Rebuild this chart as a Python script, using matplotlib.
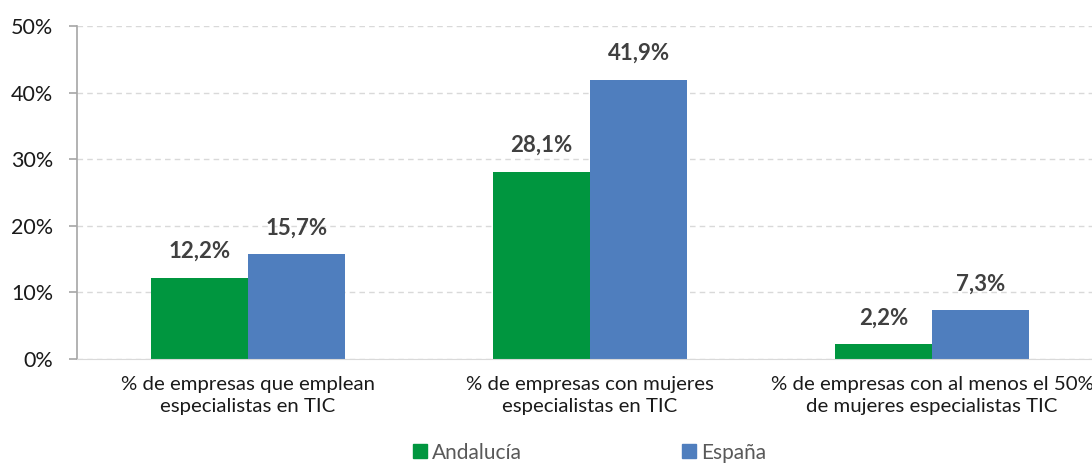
import numpy as np
import matplotlib.pyplot as plt
from matplotlib.patches import Patch

categories = ["% de empresas que emplean\nespecialistas en TIC",
              "% de empresas con mujeres\nespecialistas en TIC",
              "% de empresas con al menos el 50%\nde mujeres especialistas TIC"]
andalucia = [12.2, 28.1, 2.2]
espana = [15.7, 41.9, 7.3]
series_names = ["Andalucía", "España"]

green = "#00963f"
blue = "#4f7ebe"

plt.rcParams['font.family'] = ['Lato', 'DejaVu Sans']

fig = plt.figure(figsize=(10.92, 4.65), dpi=100)
ax = fig.add_axes([0.0705, 0.228, 0.9396, 0.716])

x = np.arange(len(categories))
w = 0.285
b1 = ax.bar(x - w / 2, andalucia, w, color=green)
b2 = ax.bar(x + w / 2, espana, w, color=blue)

for bars, vals in ((b1, andalucia), (b2, espana)):
    for r, v in zip(bars, vals):
        ax.text(r.get_x() + r.get_width() / 2, v + 2.4, f"{v:.1f}%".replace(".", ","),
                ha="center", va="bottom", fontsize=16, fontweight="bold", color="#404040")

ax.set_xlim(-0.5, 2.5)
ax.set_ylim(0, 50)
ax.set_yticks(range(0, 51, 10))
ax.set_yticklabels([f"{t}%" for t in range(0, 51, 10)], fontsize=15.5, color="#1a1a1a")
ax.set_xticks(x)
ax.set_xticklabels(categories, fontsize=14.7, color="#1a1a1a", linespacing=1.35)
ax.tick_params(axis="x", length=0, pad=12)
ax.tick_params(axis="y", length=6, color="#a6a6a6", width=1.2, pad=11)

ax.yaxis.grid(True, linestyle=(0, (4, 3)), color="#d9d9d9", linewidth=1)
ax.set_axisbelow(True)
for s in ("top", "right"):
    ax.spines[s].set_visible(False)
ax.spines["left"].set_color("#a6a6a6")
ax.spines["left"].set_linewidth(1.2)
ax.spines["bottom"].set_color("#d9d9d9")

handles = [Patch(color=green), Patch(color=blue)]
fig.legend(handles, series_names, loc="lower center", bbox_to_anchor=(0.54, -0.035),
           ncol=2, frameon=False, fontsize=15, handlelength=0.65, handleheight=0.65,
           handletextpad=0.25, columnspacing=7.7, labelcolor="#595959")

fig.savefig("out.png", dpi=100)
